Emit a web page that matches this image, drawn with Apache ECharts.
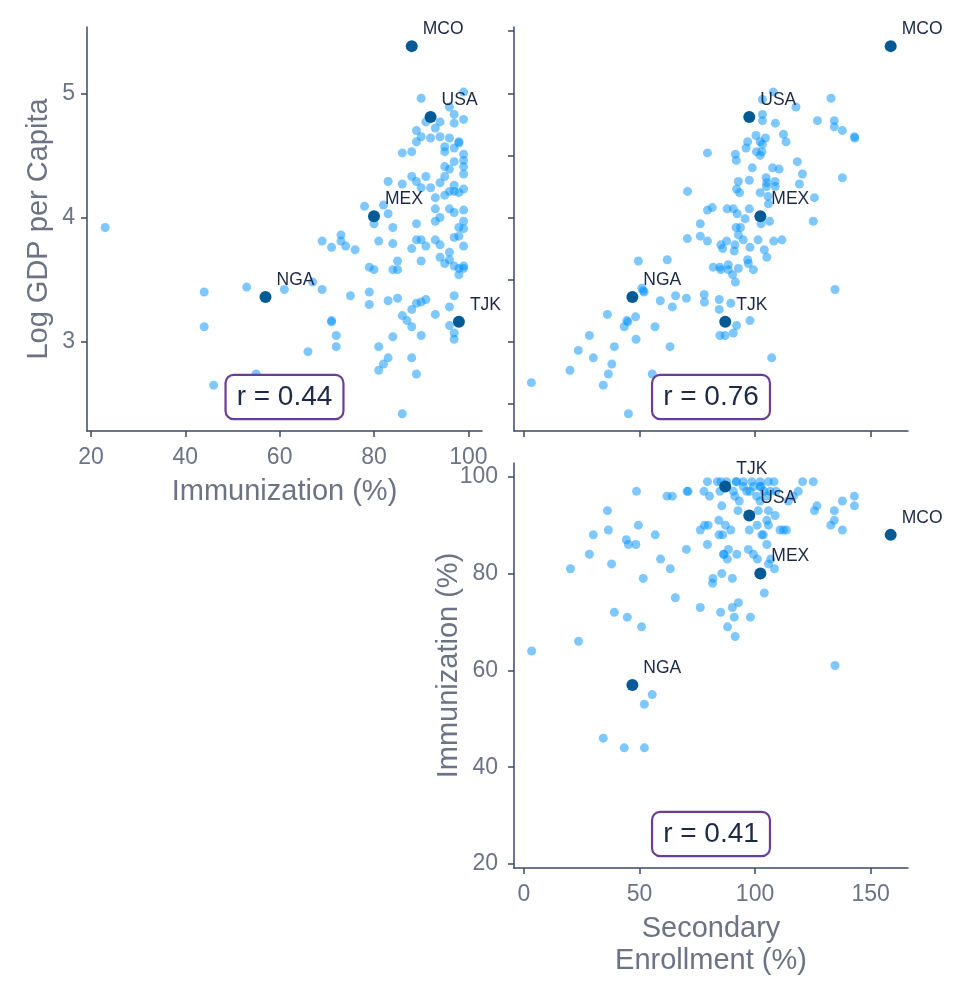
<!DOCTYPE html>
<html>
<head>
<meta charset="utf-8">
<script src="https://cdn.jsdelivr.net/npm/echarts@6/dist/echarts.min.js"></script>
<style>
  html, body { margin: 0; padding: 0; background: #ffffff; }
  #chart { width: 966px; height: 997px; }
</style>
</head>
<body>
<div id="chart"></div>
<script>
// ---------- DATA ----------
// Top-left panel: Immunization (%) vs Log GDP per Capita
const tlImmunization = [99,90,96,97,99,91,94,93,97,89,89,90,92,94,96,98,98,95,97,95,86,88,99,99,97,95,96,99,99,95,88,91,89,83,86,94,90,92,97,99,96,97,98,95,93,78,82,83,80,84,89,93,93,94,96,97,99,99,98,99,73,73,71,74,76,81,84,88,89,90,93,94,97,98,99,96,94,96,85,69,23,95,97,99,99,98,98,90,84,85,79,80,61,67,69,53,44,44,75,79,79,83,85,89,90,91,96,97,93,86,87,88,88,71,71,72,72,66,96,97,97,90,84,81,83,82,81,88,89,55,46,86,91];
const tlLogGdp = [5.01,4.96,4.89,4.83,4.79,4.77,4.77,4.72,4.76,4.70,4.61,4.65,4.64,4.65,4.64,4.61,4.60,4.57,4.56,4.53,4.52,4.53,4.51,4.46,4.45,4.41,4.39,4.41,4.35,4.33,4.33,4.33,4.29,4.29,4.27,4.28,4.24,4.24,4.26,4.23,4.21,4.21,4.20,4.18,4.16,4.09,4.10,4.03,3.95,3.92,3.95,4.07,3.97,4.00,4.07,4.04,4.06,3.97,3.92,3.91,3.86,3.81,3.76,3.77,3.74,3.81,3.79,3.75,3.82,3.82,3.82,3.78,3.84,3.85,3.77,3.72,3.68,3.66,3.65,3.81,3.92,3.63,3.61,3.61,3.59,3.54,3.59,3.65,3.58,3.58,3.60,3.58,3.42,3.48,3.42,3.44,3.40,3.12,3.37,3.40,3.30,3.33,3.35,3.31,3.32,3.34,3.28,3.37,3.22,3.21,3.17,3.26,3.12,3.17,3.16,3.05,2.96,2.92,3.13,3.07,3.02,3.05,3.04,2.96,2.87,2.82,2.77,2.87,2.74,2.74,2.65,2.42,3.77];

// Top-right panel: Secondary Enrollment (%) vs Log GDP per Capita
const trEnrollment = [107.9,103.2,117.7,132.9,103.2,103.2,108.8,127.0,134.3,134.3,137.8,143.0,143.2,112.3,113.4,100.4,104.5,96.8,102.2,103.2,96.1,100.6,103.0,102.2,79.4,91.5,91.9,98.8,107.6,110.4,118.3,120.5,137.8,104.8,97.5,92.8,105.1,108.7,119.2,92.0,93.3,102.2,104.9,108.7,105.6,125.7,70.8,79.4,81.5,87.9,90.6,92.3,97.5,95.7,105.8,106.3,125.2,102.6,76.3,70.7,76.3,79.4,85.2,86.0,87.7,91.0,91.3,92.8,93.7,91.8,94.9,97.8,101.3,104.0,108.1,111.6,105.1,96.8,97.1,99.3,81.9,84.8,88.4,85.2,88.4,92.8,90.3,91.5,49.5,62.0,134.6,51.6,52.0,51.0,59.0,65.6,70.3,64.2,78.0,78.1,84.5,84.5,89.5,92.0,97.8,84.8,87.0,90.6,107.2,36.1,44.5,45.0,43.4,48.3,56.7,48.5,63.2,28.3,23.5,30.0,39.1,38.0,36.5,34.3,19.9,3.2,45.2,55.5];
const trLogGdp = [5.01,4.95,4.89,4.96,4.83,4.78,4.76,4.78,4.78,4.73,4.70,4.65,4.64,4.67,4.61,4.66,4.64,4.61,4.61,4.59,4.56,4.53,4.53,4.50,4.52,4.51,4.46,4.40,4.40,4.39,4.45,4.35,4.32,4.32,4.30,4.29,4.28,4.29,4.27,4.23,4.20,4.20,4.25,4.25,4.17,4.16,4.21,4.06,4.08,4.07,4.07,4.03,4.07,3.99,4.11,3.97,3.97,3.95,3.95,3.83,3.85,3.81,3.78,3.75,3.81,3.73,3.78,3.86,3.92,3.92,3.82,3.76,3.82,3.74,3.81,3.82,3.68,3.66,3.63,3.58,3.60,3.60,3.62,3.58,3.58,3.59,3.54,3.48,3.65,3.66,3.42,3.41,3.40,3.43,3.33,3.37,3.35,3.28,3.38,3.32,3.34,3.26,3.31,3.13,3.17,3.05,3.05,3.07,2.87,3.22,3.17,3.16,3.12,3.20,3.12,3.02,2.96,3.05,2.93,2.87,2.96,2.82,2.74,2.65,2.77,2.67,2.42,2.74];

// Bottom panel: Secondary Enrollment (%) vs Immunization (%)
const brEnrollment = [3.3,23.6,20.1,28.3,30.0,36.5,36.1,37.9,39.1,44.7,50.9,44.3,45.2,48.4,49.5,48.7,51.6,56.8,59.1,63.3,65.5,61.9,64.2,70.6,71.0,70.3,76.3,77.9,79.4,80.3,76.3,78.1,79.7,79.4,81.8,81.6,84.3,84.4,86.0,85.6,85.1,84.8,85.6,85.2,86.6,87.2,88.1,88.5,88.0,89.5,90.2,90.2,91.4,91.0,92.8,98.0,92.1,91.8,92.0,90.6,91.3,93.2,92.6,94.9,94.9,96.4,97.1,99.3,101.0,97.5,100.9,98.6,99.3,102.2,102.2,105.8,108.2,103.9,109.1,100.7,102.2,105.1,101.4,105.8,108.7,105.1,105.8,103.6,105.1,105.8,108.4,104.0,110.8,112.3,113.6,114.4,116.6,118.7,120.6,125.2,125.7,126.8,132.8,134.3,134.3,137.8,137.8,143.0,143.0,134.6,55.5,52.1,34.3,43.4,52.1,83.7,87.7,86.3,106.8,102.9,97.8,102.6,106.5];
const brImmunization = [64,66,81,84,88,89,93,82,72,71,69,87,86,86,90,97,79,88,83,81,75,96,96,97,97,85,73,97,99,96,89,90,90,86,79,78,91,88,88,80,72,97,94,99,84,90,69,85,83,89,79,73,67,71,74,71,84,99,99,97,96,95,93,99,98,97,85,84,83,89,90,99,98,99,98,99,99,97,97,96,95,96,93,93,92,91,90,88,86,82,81,76,89,89,89,95,96,97,99,99,93,94,90,91,93,95,89,96,94,61,55,53,46,44,44,99,99,84,83,88,97,98,97];

// Highlighted countries
const hlNames = ['MCO','USA','MEX','NGA','TJK'];
const hlImmunization = [88, 92, 80, 57, 98];
const hlEnrollment = [158.7, 97.5, 102.3, 46.9, 87.1];
const hlLogGdp = [5.38, 4.81, 4.01, 3.36, 3.16];

// Correlation labels
const corrLabels = ['r = 0.44', 'r = 0.76', 'r = 0.41'];

// Tick values
const immTicks = [20, 40, 60, 80, 100];
const enrollTicks = [0, 50, 100, 150];
const gdpTicksLabeled = [3, 4, 5];
const gdpTicksMinor = [2.5, 3, 3.5, 4, 4.5, 5, 5.5];

// ---------- STYLE ----------
const FONT = '"Liberation Sans", Arial, Helvetica, sans-serif';
const AXIS_COLOR = '#3b4a66';
const LABEL_COLOR = '#6b7384';
const TEXT_DARK = '#1d2a47';
const LIGHT = 'rgba(0,145,255,0.5)';
const DARK = '#035a95';

const zip = (a, b) => a.map((v, i) => [v, b[i]]);
const zipL = (a, b, n) => a.map((v, i) => [v, b[i], n[i]]);

function axisBase(opts) {
  return Object.assign({
    type: 'value',
    splitLine: { show: false },
    axisLine: { show: true, onZero: false, lineStyle: { color: AXIS_COLOR, width: 1.5 } },
    axisTick: { show: true, inside: false, length: 6, lineStyle: { color: AXIS_COLOR, width: 1.5 } },
    axisLabel: { show: true, color: LABEL_COLOR, fontSize: 23, fontFamily: FONT, margin: 15 },
    nameTextStyle: { color: LABEL_COLOR, fontSize: 29, fontFamily: FONT, lineHeight: 32 },
    nameLocation: 'middle',
    nameMoveOverlap: false
  }, opts);
}
function withTicks(ax, vals, showLabels) {
  ax.axisTick.customValues = vals;
  ax.axisLabel.customValues = vals;
  ax.axisLabel.show = showLabels;
  return ax;
}

const grids = [
  { left: 87, top: 27, width: 395, height: 404 },
  { left: 514, top: 27, width: 394, height: 404 },
  { left: 514, top: 463, width: 394, height: 405 }
];

const xAxes = [
  withTicks(axisBase({ gridIndex: 0, min: 19.15, max: 102.9, name: 'Immunization (%)', nameGap: 45 }), immTicks, true),
  withTicks(axisBase({ gridIndex: 1, min: -4.33, max: 166.2 }), enrollTicks, false),
  withTicks(axisBase({ gridIndex: 2, min: -4.33, max: 166.2, name: 'Secondary\nEnrollment (%)', nameGap: 45 }), enrollTicks, true)
];
const yAxes = [
  withTicks(axisBase({ gridIndex: 0, min: 2.281, max: 5.534, name: 'Log GDP per Capita', nameGap: 32 }), gdpTicksLabeled, true),
  withTicks(axisBase({ gridIndex: 1, min: 2.281, max: 5.534 }), gdpTicksMinor, false),
  withTicks(axisBase({ gridIndex: 2, min: 19.17, max: 102.85, name: 'Immunization (%)', nameGap: 49 }), immTicks, true)
];
yAxes[0].axisLabel.margin = 12;
yAxes[2].axisLabel.margin = 16;

function lightSeries(idx, data) {
  return {
    type: 'scatter', xAxisIndex: idx, yAxisIndex: idx, data: data,
    symbolSize: 9, itemStyle: { color: LIGHT, borderWidth: 0, opacity: 1 }, silent: true, z: 2
  };
}
function darkSeries(idx, data) {
  return {
    type: 'scatter', xAxisIndex: idx, yAxisIndex: idx, data: data,
    symbolSize: 12, itemStyle: { color: DARK, borderWidth: 0, opacity: 1 }, silent: true, z: 3,
    label: {
      show: true, position: 'right', distance: 5, offset: [0, -17],
      formatter: p => p.data[2], color: TEXT_DARK, fontSize: 17.5, fontFamily: FONT
    }
  };
}

const series = [
  lightSeries(0, zip(tlImmunization, tlLogGdp)),
  lightSeries(1, zip(trEnrollment, trLogGdp)),
  lightSeries(2, zip(brEnrollment, brImmunization)),
  darkSeries(0, zipL(hlImmunization, hlLogGdp, hlNames)),
  darkSeries(1, zipL(hlEnrollment, hlLogGdp, hlNames)),
  darkSeries(2, zipL(hlEnrollment, hlImmunization, hlNames))
];

const graphics = grids.map((g, i) => ({
  type: 'text',
  x: g.left + g.width / 2,
  y: g.top + g.height - 34,
  z: 100,
  style: {
    text: corrLabels[i],
    fontSize: 28, fontFamily: FONT, fill: TEXT_DARK,
    align: 'center', verticalAlign: 'middle',
    backgroundColor: '#ffffff', borderColor: '#6a3d9a', borderWidth: 2.2, borderRadius: 7,
    padding: [8, 10, 6, 10]
  }
}));

const chart = echarts.init(document.getElementById('chart'), null, { renderer: 'canvas' });
chart.setOption({
  animation: false,
  backgroundColor: '#ffffff',
  grid: grids,
  xAxis: xAxes,
  yAxis: yAxes,
  series: series,
  graphic: graphics
});
</script>
</body>
</html>
